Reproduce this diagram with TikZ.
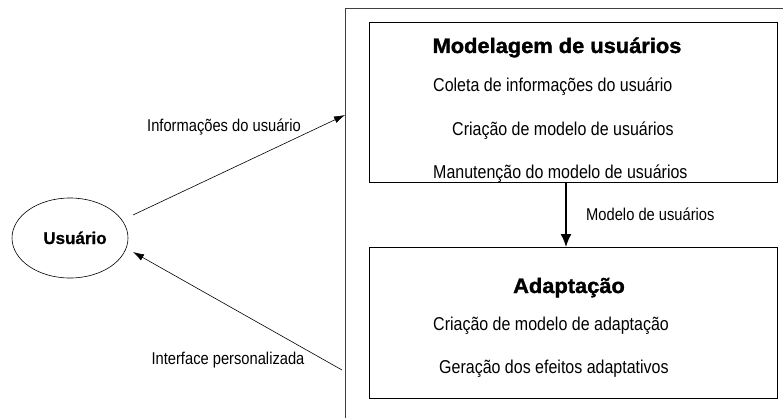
\documentclass[tikz,border=0pt]{standalone}
\usepackage{fontspec}
\setmainfont{Liberation Sans}
\newfontfamily\narrowfont{Liberation Sans}[FakeStretch=0.86]
\newfontfamily\heavyfont{Liberation Sans Bold}[FakeStretch=1.04,FakeBold=1.5]
\newfontfamily\userfont{Liberation Sans Bold}[FakeBold=0.8]
\usetikzlibrary{shapes.geometric,arrows.meta}
\begin{document}
\begin{tikzpicture}[x=1pt,y=-1pt,
  box/.style={draw=black,line width=0.9pt,rectangle,inner sep=0pt},
  txt/.style={anchor=base west,inner sep=0pt,font=\fontsize{18.6}{20}\narrowfont},
  ttl/.style={anchor=base,inner sep=0pt,font=\fontsize{21}{24}\heavyfont},
  lbl/.style={anchor=base,inner sep=0pt,font=\fontsize{17.1}{19}\narrowfont},
  conn/.style={-{Latex[length=11pt,width=7pt]},line width=0.6pt}]
\useasboundingbox (0,0) rectangle (783,417);
\clip (0,0) rectangle (783,417);
\fill[white] (0,0) rectangle (783,417);
% outer system frame
\node[draw=black!75,line width=0.8pt,rectangle,minimum width=460pt,minimum height=430pt,anchor=north west,inner sep=0pt] (sys) at (345,8) {};
% boxes
\node[box,minimum width=408pt,minimum height=160pt,anchor=north west] (mod) at (369,22) {};
\node[box,minimum width=408pt,minimum height=151pt,anchor=north west] (ada) at (369,247) {};
% ellipse
\node[draw=black,line width=0.6pt,ellipse,minimum width=116pt,minimum height=80pt,inner sep=0pt] (u) at (70,238) {};
\node[anchor=base,inner sep=0pt,font=\fontsize{17}{19}\userfont] (ut) at (75,244) {Usuário};
% texts
\node[ttl] (t1) at (557,53) {Modelagem de usuários};
\node[txt] (a1) at (433,92) {Coleta de informações do usuário};
\node[txt] (a2) at (452,135) {Criação de modelo de usuários};
\node[txt] (a3) at (433,178) {Manutenção do modelo de usuários};
\node[ttl] (t2) at (569,293) {Adaptação};
\node[txt] (b1) at (433,330) {Criação de modelo de adaptação};
\node[txt] (b2) at (439,373) {Geração dos efeitos adaptativos};
% connectors
\coordinate (inA) at (345,115);
\coordinate (outA) at (133,215);
\coordinate (inB) at (342,370);
\coordinate (outB) at (133,252);
\draw[conn] (outA) -- (inA);
\draw[conn] (inB) -- (outB);
\node[lbl] (l1) at (224,131) {Informações do usuário};
\node[lbl] (l2) at (228,364) {Interface personalizada};
\draw[-{Latex[length=13pt,width=11pt]},line width=1.6pt] (mod.south -| 566,0) -- (ada.north -| 566,0);
\node[lbl,anchor=base west] (l3) at (586,220) {Modelo de usuários};
\end{tikzpicture}
\end{document}
